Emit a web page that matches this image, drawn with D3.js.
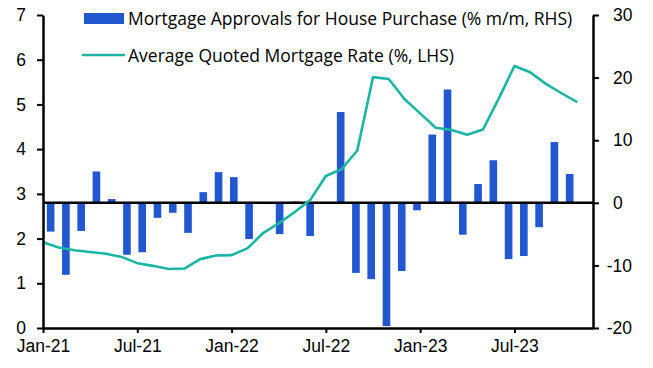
<!DOCTYPE html>
<html>
<head>
<meta charset="utf-8">
<script src="https://cdn.jsdelivr.net/npm/d3@7"></script>
<style>
  body { margin: 0; background: #fff; }
  svg { display: block; font-family: "Open Sans", "Noto Sans", sans-serif; }
</style>
</head>
<body>
<div id="chart_div"></div>
<script>
// Monthly categories, Jan-21 .. Nov-23
var months = ["Jan-21","Feb-21","Mar-21","Apr-21","May-21","Jun-21","Jul-21","Aug-21","Sep-21","Oct-21","Nov-21","Dec-21",
              "Jan-22","Feb-22","Mar-22","Apr-22","May-22","Jun-22","Jul-22","Aug-22","Sep-22","Oct-22","Nov-22","Dec-22",
              "Jan-23","Feb-23","Mar-23","Apr-23","May-23","Jun-23","Jul-23","Aug-23","Sep-23","Oct-23","Nov-23"];
var axisEnd = "Dec-23";
var tickLabels = ["Jan-21","Jul-21","Jan-22","Jul-22","Jan-23","Jul-23"];

// Mortgage approvals for house purchase (% m/m, RHS)
var approvals = [-4.6,-11.5,-4.5,5.0,0.6,-8.3,-7.9,-2.4,-1.6,-4.8,1.7,4.9,
                 4.1,-5.8,-0.2,-5.0,0.2,-5.3,0.1,14.5,-11.2,-12.2,-19.7,-10.9,
                 -1.2,10.9,18.1,-5.1,3.0,6.8,-9.0,-8.5,-3.9,9.7,4.6];

// Average quoted mortgage rate (%, LHS)
var mortgageRate = [1.92,1.80,1.74,1.70,1.66,1.59,1.45,1.39,1.32,1.33,1.54,1.62,
                    1.63,1.78,2.12,2.34,2.59,2.86,3.40,3.55,3.97,5.61,5.57,5.12,
                    4.80,4.48,4.43,4.32,4.44,5.13,5.86,5.72,5.46,5.25,5.05];

var leftTicks = [0,1,2,3,4,5,6,7];
var rightTicks = [-20,-10,0,10,20,30];

var seriesNames = ["Mortgage Approvals for House Purchase (% m/m, RHS)", "Average Quoted Mortgage Rate (%, LHS)"];
var barColor = "#2158cf";
var lineColor = "#1ab5a3";
var fontSize = "17.5px";

var width = 653, height = 368;
var marginLeft = 43, marginRight = 60, marginTop = 15, marginBottom = 40;

var svg = d3.select("#chart_div")
    .append("svg")
    .attr("width", width)
    .attr("height", height)
    .attr("viewBox", [0, 0, width, height]);

// x scales: axis/line on month starts, bars on their own band scale
var x = d3.scalePoint()
    .domain(months.concat([axisEnd]))
    .range([marginLeft, width - marginRight]);

var xBar = d3.scaleBand()
    .domain(months)
    .range([marginLeft, x(months[months.length - 1])])
    .paddingInner(0.5)
    .paddingOuter(0.25);

var yL = d3.scaleLinear().domain([0, 7]).range([height - marginBottom, marginTop]);
var yR = d3.scaleLinear().domain([-20, 30]).range([height - marginBottom, marginTop]);

// bars
svg.append("g")
    .attr("fill", barColor)
  .selectAll("rect")
  .data(approvals)
  .join("rect")
    .attr("x", (d, i) => xBar(months[i]))
    .attr("width", xBar.bandwidth())
    .attr("y", d => yR(Math.max(0, d)))
    .attr("height", d => Math.abs(yR(d) - yR(0)));

// zero line
svg.append("line")
    .attr("x1", marginLeft)
    .attr("x2", width - marginRight)
    .attr("y1", yR(0))
    .attr("y2", yR(0))
    .attr("stroke", "#000")
    .attr("stroke-width", 2.5);

// rate line
var line = d3.line()
    .x((d, i) => x(months[i]))
    .y(d => yL(d));

svg.append("path")
    .datum(mortgageRate)
    .attr("fill", "none")
    .attr("stroke", lineColor)
    .attr("stroke-width", 2.6)
    .attr("stroke-linejoin", "round")
    .attr("d", line);

// axes
var axisFont = g => g.selectAll("text")
    .attr("fill", "#000")
    .style("font-size", fontSize);

svg.append("g")
    .attr("transform", `translate(0,${height - marginBottom})`)
    .call(d3.axisBottom(x).tickValues(tickLabels).tickSize(5).tickSizeOuter(0).tickPadding(7))
    .call(g => g.select(".domain").attr("stroke-width", 2.5))
    .call(g => g.selectAll(".tick line").attr("stroke-width", 2))
    .call(axisFont);

svg.append("g")
    .attr("transform", `translate(${marginLeft},0)`)
    .call(d3.axisLeft(yL).tickValues(leftTicks).tickSize(6).tickSizeOuter(0).tickPadding(11).tickFormat(d => String(d)))
    .call(g => g.select(".domain").attr("stroke-width", 2.5))
    .call(g => g.selectAll(".tick line").attr("stroke-width", 2))
    .call(axisFont);

svg.append("g")
    .attr("transform", `translate(${width - marginRight},0)`)
    .call(d3.axisRight(yR).tickValues(rightTicks).tickSize(6).tickSizeOuter(0).tickPadding(14).tickFormat(d => String(d)))
    .call(g => g.select(".domain").attr("stroke-width", 2.5))
    .call(g => g.selectAll(".tick line").attr("stroke-width", 2))
    .call(g => g.selectAll(".tick text").filter(d => d < 0).attr("dx", "-0.36em"))
    .call(axisFont);

// legend
var legend = svg.append("g").style("font-size", fontSize);

legend.append("rect")
    .attr("x", 84).attr("y", 13)
    .attr("width", 40).attr("height", 11)
    .attr("fill", barColor);

legend.append("text")
    .attr("x", 128).attr("y", 25)
    .text(seriesNames[0]);

legend.append("line")
    .attr("x1", 82).attr("x2", 125)
    .attr("y1", 55).attr("y2", 55)
    .attr("stroke", lineColor)
    .attr("stroke-width", 2.6);

legend.append("text")
    .attr("x", 128).attr("y", 61.5)
    .text(seriesNames[1]);
</script>
</body>
</html>
